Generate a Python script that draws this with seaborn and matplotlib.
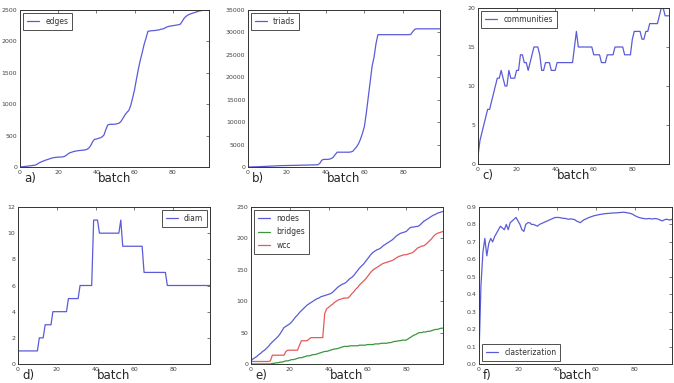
import matplotlib
matplotlib.use("Agg")
import matplotlib.pyplot as plt
import seaborn as sns

batch = list(range(100))

edges = [0, 3, 6, 10, 14, 18, 22, 26, 30, 45,
         65, 80, 92, 105, 115, 125, 135, 145, 150, 155,
         157, 158, 160, 165, 180, 205, 225, 235, 245, 252,
         258, 262, 265, 268, 272, 280, 300, 340, 400, 440,
         445, 455, 465, 480, 510, 600, 670, 680, 680, 680,
         683, 690, 700, 730, 780, 830, 870, 900, 980, 1100,
         1230, 1400, 1560, 1700, 1820, 1950, 2050, 2160, 2165, 2170,
         2172, 2175, 2180, 2185, 2195, 2200, 2215, 2230, 2240, 2245,
         2250, 2255, 2260, 2265, 2275, 2320, 2370, 2400, 2420, 2435,
         2445, 2455, 2465, 2475, 2485, 2490, 2495, 2498, 2500, 2500]

triads = [0, 10, 20, 30, 40, 60, 80, 100, 120, 140,
          160, 180, 200, 220, 240, 260, 280, 300, 310, 320,
          330, 340, 350, 360, 370, 380, 390, 400, 410, 420,
          430, 440, 450, 460, 470, 480, 500, 800, 1500, 1700,
          1700, 1700, 1750, 1900, 2200, 2800, 3300, 3300, 3300, 3300,
          3300, 3300, 3300, 3350, 3500, 4000, 4500, 5200, 6200, 7500,
          9000, 12000, 15500, 19000, 22500, 24500, 27500, 29500, 29500, 29500,
          29500, 29500, 29500, 29500, 29500, 29500, 29500, 29500, 29500, 29500,
          29500, 29500, 29500, 29500, 29600, 30200, 30700, 30800, 30800, 30800,
          30800, 30800, 30800, 30800, 30800, 30800, 30800, 30800, 30800, 30800]

communities = [1, 3, 4, 5, 6, 7, 7, 8, 9, 10,
               11, 11, 12, 11, 10, 10, 12, 11, 11, 11,
               12, 12, 14, 14, 13, 13, 12, 13, 14, 15,
               15, 15, 14, 12, 12, 13, 13, 13, 12, 12,
               12, 13, 13, 13, 13, 13, 13, 13, 13, 13,
               15, 17, 15, 15, 15, 15, 15, 15, 15, 15,
               14, 14, 14, 14, 13, 13, 13, 14, 14, 14,
               14, 15, 15, 15, 15, 15, 14, 14, 14, 14,
               16, 17, 17, 17, 17, 16, 16, 17, 17, 18,
               18, 18, 18, 18, 19, 20, 20, 19, 19, 19]

diam = [1, 1, 1, 1, 1, 1, 1, 1, 1, 1,
        1, 2, 2, 2, 3, 3, 3, 3, 4, 4,
        4, 4, 4, 4, 4, 4, 5, 5, 5, 5,
        5, 5, 6, 6, 6, 6, 6, 6, 6, 11,
        11, 11, 10, 10, 10, 10, 10, 10, 10, 10,
        10, 10, 10, 11, 9, 9, 9, 9, 9, 9,
        9, 9, 9, 9, 9, 7, 7, 7, 7, 7,
        7, 7, 7, 7, 7, 7, 7, 6, 6, 6,
        6, 6, 6, 6, 6, 6, 6, 6, 6, 6,
        6, 6, 6, 6, 6, 6, 6, 6, 6, 6]

nodes = [5, 8, 10, 12, 15, 17, 20, 22, 25, 28,
         32, 35, 38, 41, 44, 48, 53, 58, 60, 62,
         64, 67, 71, 75, 78, 82, 85, 88, 91, 94,
         96, 98, 100, 102, 104, 105, 107, 108, 109, 110,
         111, 112, 114, 117, 120, 123, 125, 127, 128, 130,
         133, 136, 138, 141, 145, 149, 153, 156, 159, 163,
         167, 171, 175, 178, 180, 182, 183, 185, 188, 190,
         192, 194, 196, 198, 201, 204, 206, 208, 209, 210,
         211, 214, 217, 218, 218, 219, 219, 221, 224, 227,
         229, 231, 233, 235, 237, 238, 240, 241, 242, 243]

bridges = [0, 0, 0, 0, 0, 0, 0, 0, 0, 0,
           0, 1, 1, 2, 2, 3, 3, 4, 5, 5,
           6, 7, 7, 8, 9, 10, 10, 11, 12, 13,
           13, 14, 15, 15, 16, 17, 18, 19, 20, 20,
           21, 22, 23, 24, 24, 25, 26, 27, 28, 28,
           28, 29, 29, 29, 29, 29, 30, 30, 30, 30,
           31, 31, 31, 31, 32, 32, 32, 33, 33, 33,
           33, 34, 34, 35, 36, 36, 37, 37, 38, 38,
           38, 40, 42, 44, 46, 47, 49, 50, 50, 51,
           51, 52, 52, 53, 54, 55, 55, 56, 57, 57]

wcc = [4, 4, 4, 4, 4, 4, 4, 4, 4, 4,
       5, 14, 14, 14, 14, 14, 14, 14, 20, 22,
       22, 22, 22, 22, 22, 30, 37, 37, 37, 37,
       40, 42, 42, 42, 42, 42, 42, 42, 80, 88,
       90, 93, 95, 98, 100, 102, 103, 104, 105, 105,
       105, 108, 112, 115, 119, 122, 126, 129, 132, 135,
       139, 143, 147, 150, 152, 154, 156, 158, 160, 161,
       162, 163, 164, 165, 167, 169, 171, 172, 173, 174,
       174, 175, 176, 177, 179, 182, 185, 186, 188, 188,
       190, 193, 196, 199, 203, 206, 208, 209, 210, 211]

clasterization = [0.05, 0.45, 0.64, 0.72, 0.62, 0.69, 0.72, 0.70, 0.73, 0.75,
                  0.77, 0.79, 0.78, 0.77, 0.80, 0.77, 0.81, 0.82, 0.83, 0.84,
                  0.82, 0.80, 0.77, 0.76, 0.80, 0.81, 0.81, 0.80, 0.80, 0.795,
                  0.79, 0.80, 0.805, 0.81, 0.815, 0.82, 0.825, 0.83, 0.835, 0.84,
                  0.84, 0.84, 0.838, 0.835, 0.835, 0.832, 0.83, 0.832, 0.83, 0.828,
                  0.82, 0.815, 0.81, 0.82, 0.828, 0.832, 0.838, 0.842, 0.846, 0.85,
                  0.852, 0.855, 0.857, 0.859, 0.861, 0.862, 0.863, 0.864, 0.865, 0.866,
                  0.866, 0.867, 0.868, 0.869, 0.87, 0.869, 0.867, 0.865, 0.862, 0.857,
                  0.85, 0.845, 0.84, 0.837, 0.835, 0.833, 0.832, 0.834, 0.833, 0.831,
                  0.834, 0.833, 0.83, 0.825, 0.82, 0.826, 0.83, 0.828, 0.825, 0.83]

BLUE = "#5b5bd8"
GREEN = "#3c963c"
RED = "#e35a5a"

sns.set_style("white")
plt.rcParams["font.family"] = ["DejaVu Sans"]

W, H = 674, 383
fig = plt.figure(figsize=(W / 100, H / 100), dpi=100)


def make_ax(l, r, t, b):
    return fig.add_axes([l / W, 1 - b / H, (r - l) / W, (b - t) / H])


# (left, right, top, bottom) in pixels, series, ylim, yticks, legend loc, panel letter
panels = [
    ((20, 209, 10, 167), [("edges", edges, BLUE)], 2500, range(0, 2501, 500), "upper left", "a)"),
    ((248, 440, 10, 167), [("triads", triads, BLUE)], 35000, range(0, 35001, 5000), "upper left", "b)"),
    ((478, 669, 8, 164), [("communities", communities, BLUE)], 20, range(0, 21, 5), "upper left", "c)"),
    ((18, 210, 207, 364), [("diam", diam, BLUE)], 12, range(0, 13, 2), "upper right", "d)"),
    ((251, 443, 207, 364), [("nodes", nodes, BLUE), ("bridges", bridges, GREEN), ("wcc", wcc, RED)],
     250, range(0, 251, 50), "upper left", "e)"),
    ((479, 672, 207, 364), [("clasterization", clasterization, BLUE)], 0.9,
     [i / 10 for i in range(10)], "lower left", "f)"),
]

for (l, r, t, b), series, ymax, yticks, loc, letter in panels:
    ax = make_ax(l, r, t, b)
    for name, vals, col in series:
        sns.lineplot(x=batch, y=vals, ax=ax, color=col, linewidth=0.9, label=name)
    ax.set_xlim(0, 99)
    ax.set_ylim(0, ymax)
    ax.set_xticks([0, 20, 40, 60, 80])
    ax.set_yticks(list(yticks))
    if letter == "f)":
        ax.set_yticklabels([f"{v:.1f}" for v in yticks])
    ax.tick_params(direction="in", length=2.5, width=0.5, labelsize=4.5,
                   colors="#444444", top=True, right=True, pad=2)
    for s in ax.spines.values():
        s.set_color("#333333")
        s.set_linewidth(0.7)
    leg = ax.legend(loc=loc, fontsize=5.5, frameon=True, fancybox=False,
                    handlelength=1.6, borderpad=0.5, labelspacing=0.6,
                    handletextpad=0.8, borderaxespad=0.4)
    leg.get_frame().set_edgecolor("#222222")
    leg.get_frame().set_linewidth(0.7)
    for txt in leg.get_texts():
        txt.set_color("#333333")
    base = b + 15
    fig.text((l + 4) / W, 1 - base / H, letter, fontsize=8.5, va="baseline", ha="left")
    fig.text((l + r) / 2 / W, 1 - base / H, "batch", fontsize=8.5, va="baseline", ha="center")

fig.savefig("out.png", dpi=100)
